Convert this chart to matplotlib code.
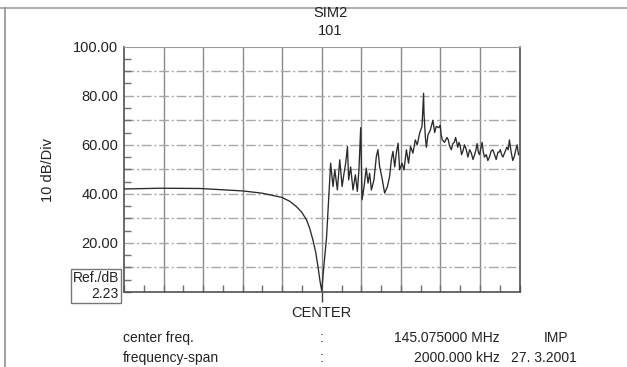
import numpy as np
import matplotlib
matplotlib.use("Agg")
import matplotlib.pyplot as plt
from matplotlib.ticker import MultipleLocator

plt.rcParams['font.family'] = ['Liberation Sans', 'DejaVu Sans']

# frequency offset from center (kHz), span 2000 kHz, 200 kHz/div
freq_khz = [-1000, -818, -616, -399, -303, -203, -162, -128, -101, -77, -61, -44, -30, -19, -8,
            0, 10, 24, 32, 45, 57, 66, 79, 91, 103, 113, 121, 130, 136, 146, 158, 170, 180, 188, 197,
            204, 214, 225, 234, 242, 251, 264, 276, 284, 293, 305, 318, 332, 343, 352, 360, 369, 377,
            386, 394, 406, 416, 428, 439, 449, 461, 473, 483, 495, 507, 515,
            517, 524, 529, 537, 549, 562, 571, 579, 592, 599, 604, 610, 621, 633, 640, 646, 655, 663,
            670, 677, 688, 694, 700, 707, 714, 722, 731, 739, 748, 756, 765, 773, 780, 786, 792, 798,
            804, 811, 817, 823, 832, 840, 848, 857, 865, 874, 882, 891, 897, 903, 910, 916, 926, 936,
            943, 949, 958, 966, 973, 980, 988, 995]
level_db = [42.0, 42.3, 42.2, 41.2, 40.3, 38.6, 37.0, 34.8, 32.5, 29.4, 26.0, 21.0, 16.0, 10.3, 4.0,
            0.5, 10.0, 22.0, 33.5, 52.5, 43.0, 49.8, 41.6, 53.9, 43.0, 48.6, 52.5, 59.3, 45.7, 51.0,
            41.6, 47.8, 41.0, 49.8, 67.0, 37.6, 43.0, 50.5, 44.4, 48.4, 41.6, 45.7, 55.2, 58.0, 51.0,
            46.4, 40.3, 43.0, 47.0, 53.9, 57.3, 51.0, 56.6, 60.7, 49.8, 52.5, 49.8, 58.0, 52.5, 59.3,
            56.6, 62.0, 60.0, 64.8, 67.5, 81.0,
            73.0, 63.0, 59.0, 64.0, 66.0, 70.0, 65.0, 67.5, 67.0, 68.0, 64.0, 62.0, 61.0, 63.0, 62.0,
            59.6, 58.0, 60.5, 61.0, 63.0, 59.0, 61.0, 59.6, 56.0, 57.5, 60.0, 58.0, 55.0, 58.0, 56.7,
            54.0, 56.0, 58.0, 60.5, 57.0, 56.0, 58.5, 61.0, 57.0, 55.0, 56.0, 53.6, 55.0, 57.5, 58.0,
            56.0, 54.0, 57.0, 57.0, 58.0, 56.0, 55.0, 57.0, 59.0, 58.0, 62.0, 57.0, 53.6, 55.0, 57.5,
            60.0, 56.0]

ytick_vals = [20, 40, 60, 80, 100]
ytick_labels = ["20.00", "40.00", "60.00", "80.00", "100.00"]

info_rows = [("center freq.", "145.075000 MHz", "IMP"),
             ("frequency-span", "2000.000 kHz", "27. 3.2001")]

W, H = 627, 367
fig = plt.figure(figsize=(W / 100, H / 100), dpi=100)
ax = fig.add_axes([124 / W, 1 - 292 / H, (519.5 - 124) / W, (292 - 46.7) / H])

ax.set_xlim(-1000, 1000)
ax.set_ylim(0, 100)

# grid
for xv in np.arange(-800, 1000, 200):
    ax.axvline(xv, color='#8a8a8a', lw=1.0, zorder=1)
for yv in np.arange(10, 100, 10):
    ax.axhline(yv, color='#a8a8a8', lw=1.0, ls=(0, (7, 2, 1.5, 2)), zorder=1)

ax.plot(freq_khz, level_db, color='#2a2a2a', lw=0.95, zorder=3)

# ticks
ax.set_xticks([0])
ax.set_xticklabels(["CENTER"], fontsize=10.5, color='#222222')
ax.tick_params(axis='x', which='major', direction='out', length=7, width=1, color='#404040', pad=3)
ax.xaxis.set_minor_locator(MultipleLocator(100))
ax.tick_params(axis='x', which='minor', direction='in', length=5, width=1, color='#707070')

ax.set_yticks(ytick_vals)
ax.set_yticklabels(ytick_labels, fontsize=10.5, color='#222222')
ax.tick_params(axis='y', which='major', length=0, pad=4)
ax.yaxis.set_minor_locator(MultipleLocator(5))
ax.tick_params(axis='y', which='minor', direction='in', length=5, width=1, color='#707070')

for s in ['left', 'bottom', 'right']:
    ax.spines[s].set_color('#505050')
    ax.spines[s].set_linewidth(1.2)
ax.spines['top'].set_color('#9a9a9a')

# labels
fig.text(48 / W, 1 - 170 / H, "10 dB/Div", rotation=90, ha='center', va='center',
         fontsize=10.5, color='#222222')
fig.text(119 / W, 1 - 286 / H, "Ref./dB\n2.23", ha='right', va='center', multialignment='right',
         fontsize=10, color='#222222', linespacing=1.15,
         bbox=dict(boxstyle='square,pad=0.15', fc='white', ec='#777777', lw=1))
fig.text(330 / W, 1 - 13 / H, "SIM2", ha='center', va='center', fontsize=10.5, color='#222222')
fig.text(330 / W, 1 - 31 / H, "101", ha='center', va='center', fontsize=10.5, color='#222222')

row_y = [338, 358]
for (name, val, extra), yy in zip(info_rows, row_y):
    fig.text(123 / W, 1 - yy / H, name, ha='left', va='center', fontsize=10, color='#222222')
    fig.text(322 / W, 1 - yy / H, ":", ha='center', va='center', fontsize=10, color='#222222')
    fig.text(500 / W, 1 - yy / H, val, ha='right', va='center', fontsize=10, color='#222222')
fig.text(556 / W, 1 - row_y[0] / H, info_rows[0][2], ha='center', va='center', fontsize=10, color='#222222')
fig.text(544 / W, 1 - row_y[1] / H, info_rows[1][2], ha='center', va='center', fontsize=10, color='#222222')

# scan border lines
fig.add_artist(plt.Line2D([0, 1], [1 - 8 / H, 1 - 8 / H], color='#b0b0b0', lw=1.5))
fig.add_artist(plt.Line2D([5 / W, 5 / W], [0, 1 - 8 / H], color='#909090', lw=1.2))

fig.savefig("out.png", dpi=100)
